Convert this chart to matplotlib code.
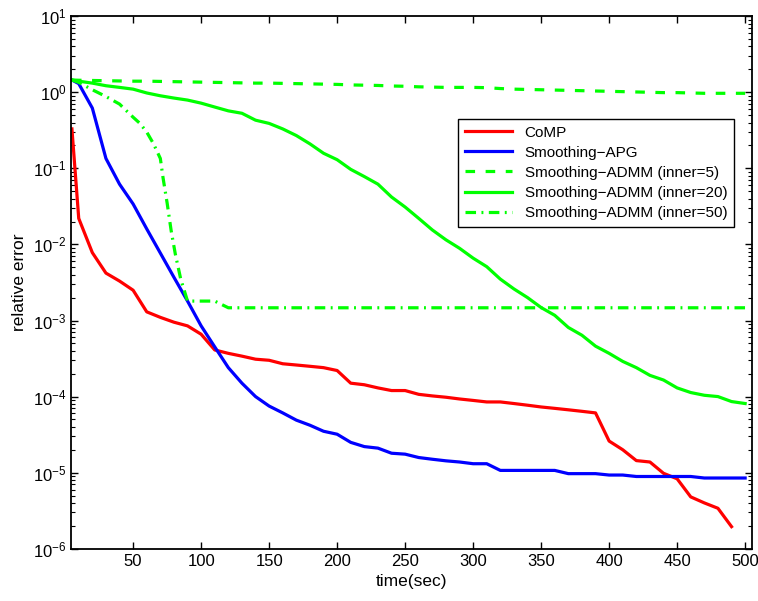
import numpy as np
import matplotlib
matplotlib.use("Agg")
import matplotlib.pyplot as plt

# ---------- data ----------
t = [5] + list(range(10, 501, 10))
t_red = [5] + list(range(10, 491, 10))

comp = [0.33, 0.022, 0.0078, 0.0042, 0.0033, 0.0025, 0.0013, 0.0011, 0.00095, 0.00085,
        0.00066, 0.00041, 0.00037, 0.00034, 0.00031, 0.00030, 0.00027, 0.00026, 0.00025, 0.00024,
        0.00022, 0.00015, 0.000143, 0.00013, 0.00012, 0.00012, 0.000107, 0.000102, 0.000098, 0.000093,
        0.000089, 0.000085, 0.000085, 0.000081, 0.000077, 0.000073, 0.00007, 0.000067, 0.000064, 0.000061,
        0.000026, 0.00002, 0.0000144, 0.0000138, 0.0000098, 0.0000083, 0.0000048, 0.000004, 0.0000034,
        0.00000195]

apg = [1.45, 1.3, 0.62, 0.135, 0.062, 0.034, 0.016, 0.0077, 0.0037, 0.0018,
       0.00085, 0.00045, 0.00024, 0.00015, 0.0001, 0.000075, 0.000061, 0.000049, 0.000042, 0.000035,
       0.000032, 0.000025, 0.000022, 0.000021, 0.000018, 0.0000175, 0.0000158, 0.000015, 0.0000143, 0.0000138,
       0.0000131, 0.0000131, 0.0000107, 0.0000107, 0.0000107, 0.0000107, 0.0000107, 0.0000097, 0.0000097, 0.0000097,
       0.0000093, 0.0000093, 0.0000089, 0.0000089, 0.0000089, 0.0000089, 0.0000089, 0.0000085, 0.0000085, 0.0000085,
       0.0000085]

admm5 = [1.45, 1.44, 1.43, 1.42, 1.41, 1.40, 1.40, 1.39, 1.38, 1.37,
         1.36, 1.35, 1.34, 1.33, 1.32, 1.32, 1.31, 1.30, 1.29, 1.28,
         1.27, 1.25, 1.24, 1.23, 1.21, 1.20, 1.18, 1.17, 1.16, 1.16,
         1.16, 1.15, 1.12, 1.10, 1.09, 1.08, 1.07, 1.06, 1.05, 1.04,
         1.03, 1.02, 1.01, 1.00, 0.99, 0.99, 0.98, 0.97, 0.97, 0.97,
         0.97]

admm20 = [1.45, 1.40, 1.32, 1.22, 1.16, 1.10, 0.98, 0.90, 0.84, 0.79,
          0.72, 0.64, 0.57, 0.53, 0.43, 0.39, 0.33, 0.27, 0.21, 0.158,
          0.13, 0.097, 0.078, 0.062, 0.042, 0.031, 0.022, 0.0155, 0.0115, 0.0089,
          0.0066, 0.0051, 0.0035, 0.0026, 0.0020, 0.00148, 0.00117, 0.00081, 0.00064, 0.00046,
          0.00037, 0.00029, 0.00024, 0.00019, 0.000165, 0.00013, 0.000113, 0.000104, 0.0001, 0.000086,
          0.000081]

t50 = [5, 10, 20, 30, 40, 50, 55, 60, 65, 70, 72, 75, 78, 81, 85, 90, 100, 110] + list(range(120, 501, 10))
admm50 = [1.45, 1.35, 1.08, 0.88, 0.70, 0.47, 0.39, 0.30, 0.21, 0.135, 0.075, 0.035, 0.015, 0.0075,
          0.0035, 0.0018, 0.0018, 0.0018] + [0.00147] * len(range(120, 501, 10))

labels = ["CoMP", "Smoothing\u2212APG", "Smoothing\u2212ADMM (inner=5)",
          "Smoothing\u2212ADMM (inner=20)", "Smoothing\u2212ADMM (inner=50)"]

# ---------- figure ----------
plt.rcParams.update({"font.family": ["Liberation Sans", "DejaVu Sans"], "font.size": 12,
                     "mathtext.fontset": "custom", "mathtext.rm": "Liberation Sans"})

fig = plt.figure(figsize=(7.58, 6.01), dpi=100)
ax = fig.add_axes([0.094, 0.087, 0.898, 0.886])

lw = 2.3
ax.plot(t_red, comp, color=(1, 0, 0), lw=lw, label=labels[0])
ax.plot(t, apg, color=(0, 0, 1), lw=lw, label=labels[1])
ax.plot(t, admm5, color=(0, 1, 0), lw=lw, dashes=(3, 3.3), label=labels[2])
ax.plot(t, admm20, color=(0, 1, 0), lw=lw, label=labels[3])
ax.plot(t50, admm50, color=(0, 1, 0), lw=lw, dashes=(3.3, 1.7, 0.6, 1.7), label=labels[4])

ax.set_yscale("log")
ax.set_xlim(4.5, 505)
ax.set_ylim(1e-6, 10)
ax.set_xticks(range(50, 501, 50))
ax.set_yticks([10.0 ** k for k in range(-6, 2)])
ax.tick_params(which="both", direction="in", top=True, right=True)
ax.tick_params(which="major", length=5, width=1)
ax.tick_params(which="minor", length=3, width=0.8)
ax.tick_params(axis="x", which="minor", bottom=False, top=False)
for s in ax.spines.values():
    s.set_linewidth(1.3)

ax.set_xlabel("time(sec)", fontsize=12.5)
ax.set_ylabel("relative error", fontsize=12.5)

leg = ax.legend(loc="upper right", bbox_to_anchor=(0.985, 0.822), fontsize=11,
                fancybox=False, edgecolor="black", framealpha=1, handlelength=3.1,
                borderpad=0.45, labelspacing=0.4)
leg.get_frame().set_linewidth(1.0)

fig.savefig("out.png", dpi=100)
